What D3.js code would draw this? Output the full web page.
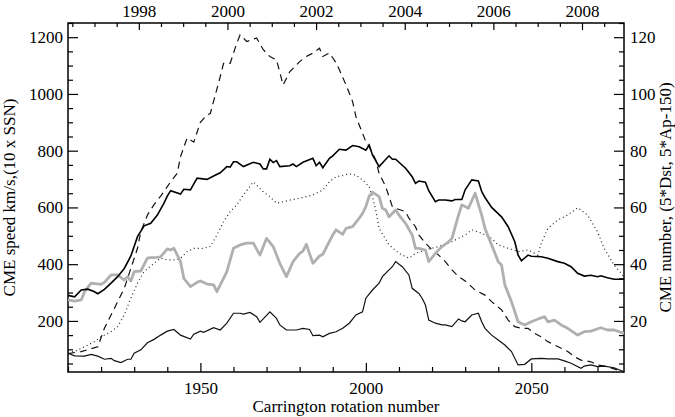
<!DOCTYPE html>
<html><head><meta charset="utf-8">
<script src="https://cdn.jsdelivr.net/npm/d3@7"></script>
<style>body{margin:0;background:#fff}svg{display:block}</style>
</head><body><svg id="c" width="675" height="417"></svg>
<script>
// ---- data (Carrington rotation, value) ----
const speedCR  = [1910,1912,1914,1916,1918,1919,1921,1923,1925,1927,1929,1931,1933,1935,1937,1939,1940,1941,1944,1945,1947,1949,1952,1954,1956,1958,1959,1960,1961,1963,1966,1968,1969,1970,1971,1972,1973,1974,1977,1978,1979,1981,1984,1985,1986,1987,1989,1990,1992,1994,1996,1998,2000,2001,2002,2004,2007,2008,2009,2012,2014,2015,2016,2018,2019,2021,2022,2024,2026,2027,2029,2030,2032,2034,2035,2036,2038,2041,2043,2045,2046,2047,2049,2050,2053,2055,2058,2060,2062,2064,2066,2068,2070,2071,2073,2075,2078];
const speedVal = [290,285,309,312,303,296,311,333,356,385,429,497,535,544,573,615,640,659,647,664,662,703,699,711,722,744,742,761,761,744,759,753,736,736,770,758,765,744,747,753,744,759,773,747,759,740,773,782,805,802,818,814,802,820,785,744,782,770,770,738,708,685,693,689,659,620,626,626,623,628,628,662,697,693,656,635,600,567,532,479,432,412,432,428,426,421,409,403,391,368,358,361,356,359,352,347,347];

const ssnCR  = [1910,1914,1919,1921,1924,1927,1929,1931,1932,1934,1936,1938,1941,1943,1944,1946,1948,1950,1952,1953,1956,1957,1959,1961,1962,1964,1967,1969,1971,1973,1975,1977,1980,1982,1984,1986,1987,1989,1991,1992,1994,1996,1997,1999,2000,2001,2003,2004,2006,2007,2008,2009,2012,2013,2015,2016,2018,2020,2022,2024,2026,2028,2030,2033,2036,2038,2041,2043,2045,2047,2049,2051,2053,2055,2057,2059,2061,2063,2065,2068,2070,2073,2076,2078];
const ssnVal = [85,92,109,174,244,315,385,456,514,573,610,640,690,720,779,845,830,900,926,931,1061,1108,1108,1179,1208,1185,1197,1156,1132,1120,1032,1078,1114,1132,1144,1161,1132,1144,1110,1085,1032,973,920,861,832,814,767,720,673,638,603,597,585,562,532,503,474,450,432,409,380,356,341,309,291,268,239,203,180,174,174,156,144,127,115,104,92,74,62,56,45,39,27,20];

const apCR  = [1910,1912,1915,1918,1920,1923,1925,1927,1929,1931,1933,1936,1938,1940,1942,1944,1946,1948,1951,1953,1955,1957,1959,1961,1963,1966,1969,1971,1973,1975,1977,1980,1984,1987,1989,1991,1995,1997,1999,2001,2002,2003,2004,2007,2010,2013,2015,2018,2022,2026,2030,2032,2035,2038,2040,2043,2046,2049,2052,2053,2055,2058,2061,2064,2067,2070,2072,2075,2078];
const apVal = [90,92,109,127,144,162,180,221,280,333,374,403,421,415,415,421,444,456,456,462,503,550,585,609,644,690,655,638,615,620,626,632,644,661,691,708,718,714,697,673,638,590,526,468,438,421,438,450,462,479,503,521,509,491,468,456,444,450,432,474,526,556,573,599,573,514,456,397,356];

const dstCR  = [1910,1912,1914,1915,1917,1920,1921,1923,1925,1927,1928,1929,1930,1932,1934,1935,1937,1938,1940,1941,1942,1944,1945,1947,1949,1950,1952,1954,1955,1958,1960,1962,1964,1966,1968,1970,1972,1974,1976,1978,1980,1981,1982,1984,1986,1987,1990,1991,1993,1994,1996,1998,1999,2000,2001,2002,2004,2005,2006,2007,2009,2010,2012,2014,2015,2016,2018,2019,2021,2023,2025,2026,2028,2029,2031,2033,2035,2036,2038,2040,2041,2042,2044,2046,2048,2050,2053,2054,2055,2057,2059,2061,2064,2066,2068,2071,2073,2075,2078];
const dstVal = [274,270,274,303,333,329,336,362,362,344,356,341,374,376,421,423,424,426,454,450,456,409,350,321,336,341,330,327,303,374,456,468,474,474,432,491,462,403,356,409,438,446,470,403,429,435,503,521,505,526,532,562,579,603,640,654,638,597,591,567,591,573,544,503,456,456,450,409,438,462,479,491,573,609,597,650,573,526,468,409,397,327,268,197,186,197,211,215,197,203,186,174,150,162,164,176,168,168,156];

// CME number (right-hand axis units)
const cmeCR  = [1910,1912,1915,1917,1919,1921,1923,1924,1926,1928,1929,1930,1932,1934,1936,1938,1940,1942,1944,1947,1948,1950,1951,1954,1956,1958,1960,1962,1963,1965,1967,1968,1971,1973,1974,1976,1979,1981,1983,1984,1986,1987,1989,1991,1992,1993,1995,1997,1999,2000,2002,2004,2005,2007,2008,2009,2011,2013,2014,2016,2017,2018,2019,2021,2023,2024,2026,2028,2029,2030,2032,2034,2035,2036,2038,2040,2042,2044,2046,2048,2050,2053,2055,2058,2060,2062,2065,2066,2068,2070,2072,2075,2078];
const cmeVal = [8.6,7.7,7.6,8.2,7.6,6.5,6.8,6.0,5.3,6.5,6.5,8.6,9.8,12.3,13.5,15.0,16.4,17.0,15.0,13.6,15.3,16.4,16.0,17.6,16.8,19.2,22.7,22.7,22.4,23.0,21.5,19.5,23.2,20.9,18.6,16.8,16.8,17.4,17.0,14.8,15.0,14.4,15.6,16.2,16.8,17.4,19.2,22.1,23.2,28.0,30.9,33.3,35.6,38.0,39.1,40.9,39.1,36.2,31.5,29.7,28.0,25.6,20.3,19.2,18.6,18.6,18.0,20.7,20.0,19.7,22.1,22.7,19.7,17.4,15.0,13.3,11.5,9.2,4.5,4.7,6.6,6.8,6.6,6.6,5.9,5.1,3.3,4.1,4.5,3.9,4.1,3.5,2.1];

// axis ticks
const leftTicks  = [200,400,600,800,1000,1200];
const rightTicks = [20,40,60,80,100,120];
const bottomTicks = [1950,2000,2050];
const topYears = [1998,2000,2002,2004,2006,2008];

// ---- layout ----
const FONT='"Liberation Serif","Times New Roman",serif';
const L=68, R=624, T=23, B=372;
const svg=d3.select("#c");
const x=d3.scaleLinear().domain([1910,2078]).range([L,R]);
const yL=d3.scaleLinear().domain([20,1250]).range([B,T]);
const yR=d3.scaleLinear().domain([2,125]).range([B,T]);
const yearOf=cr=>2003.123+(cr-2000)*27.2753/365.25;
const xYear=d3.scaleLinear().domain([yearOf(1910),yearOf(2078)]).range([L,R]);

function ax(gen,scale,vals,size,fmt,tr){
  const a=gen(scale).tickValues(vals).tickSizeInner(size).tickSizeOuter(0).tickPadding(5);
  if(fmt!==undefined) a.tickFormat(fmt);
  const g=svg.append("g").attr("transform",tr).call(a);
  g.attr("font-family",FONT).attr("font-size",17);
  g.select(".domain").remove();
  g.selectAll("line").attr("stroke","#000").attr("stroke-width",1.2);
  g.selectAll("text").style("font-family",FONT).style("font-size","17px").attr("fill","#000");
  return g;
}
const rng=(a,b,s)=>d3.range(a,b+1e-9,s);
// left
ax(d3.axisLeft,yL,rng(50,1250,50).filter(v=>v%200),-5,()=> "",`translate(${L},0)`);
ax(d3.axisLeft,yL,leftTicks,-10,d3.format("d"),`translate(${L},0)`).selectAll("text").attr("x",-5);
// right
ax(d3.axisRight,yR,rng(5,125,5).filter(v=>v%20),-5,()=> "",`translate(${R},0)`);
ax(d3.axisRight,yR,rightTicks,-10,d3.format("d"),`translate(${R},0)`).selectAll("text").attr("x",6);
// bottom
ax(d3.axisBottom,x,rng(1910,2078,10).filter(v=>v%50),-5,()=> "",`translate(0,${B})`);
ax(d3.axisBottom,x,bottomTicks,-9,d3.format("d"),`translate(0,${B})`).selectAll("text").attr("y",10);
// top
const yrMinor=rng(1996.5,2008.5,0.5).filter(v=>v%2!==0 && xYear(v)>L && xYear(v)<R);
ax(d3.axisTop,xYear,yrMinor,-4,()=> "",`translate(0,${T})`);
ax(d3.axisTop,xYear,topYears,-7,d3.format("d"),`translate(0,${T})`).selectAll("text").attr("y",-6);

// frame
svg.append("rect").attr("x",L).attr("y",T).attr("width",R-L).attr("height",B-T)
  .attr("fill","none").attr("stroke","#000").attr("stroke-width",1.5);

// lines
const zip=(a,b)=>a.map((v,i)=>[v,b[i]]);
const lineL=d3.line().x(d=>x(d[0])).y(d=>yL(d[1]));
const lineR=d3.line().x(d=>x(d[0])).y(d=>yR(d[1]));
const gl=svg.append("g");
gl.append("path").attr("d",lineL(zip(apCR,apVal))).attr("fill","none").attr("stroke","#222").attr("stroke-width",1.2).attr("stroke-dasharray","1,3");
gl.append("path").attr("d",lineL(zip(ssnCR,ssnVal))).attr("fill","none").attr("stroke","#111").attr("stroke-width",1.2).attr("stroke-dasharray","7,5");
gl.append("path").attr("d",lineL(zip(dstCR,dstVal))).attr("fill","none").attr("stroke","#b0b0b0").attr("stroke-width",2.8).attr("stroke-linejoin","round");
gl.append("path").attr("d",lineL(zip(speedCR,speedVal))).attr("fill","none").attr("stroke","#000").attr("stroke-width",1.6);
gl.append("path").attr("d",lineR(zip(cmeCR,cmeVal))).attr("fill","none").attr("stroke","#111").attr("stroke-width",1.2);

// titles
const title=(tr,txt)=>svg.append("text").attr("transform",tr).attr("text-anchor","middle")
  .style("font-family",FONT).style("font-size","17px").attr("fill","#000").text(txt);
title(`translate(${(L+R)/2},412)`,"Carrington rotation number");
title(`translate(15,${(T+B)/2}) rotate(-90)`,"CME speed km/s,(10 x SSN)");
title(`translate(671,${(T+B)/2}) rotate(-90)`,"CME number, (5*Dst, 5*Ap-150)");
</script></body></html>
